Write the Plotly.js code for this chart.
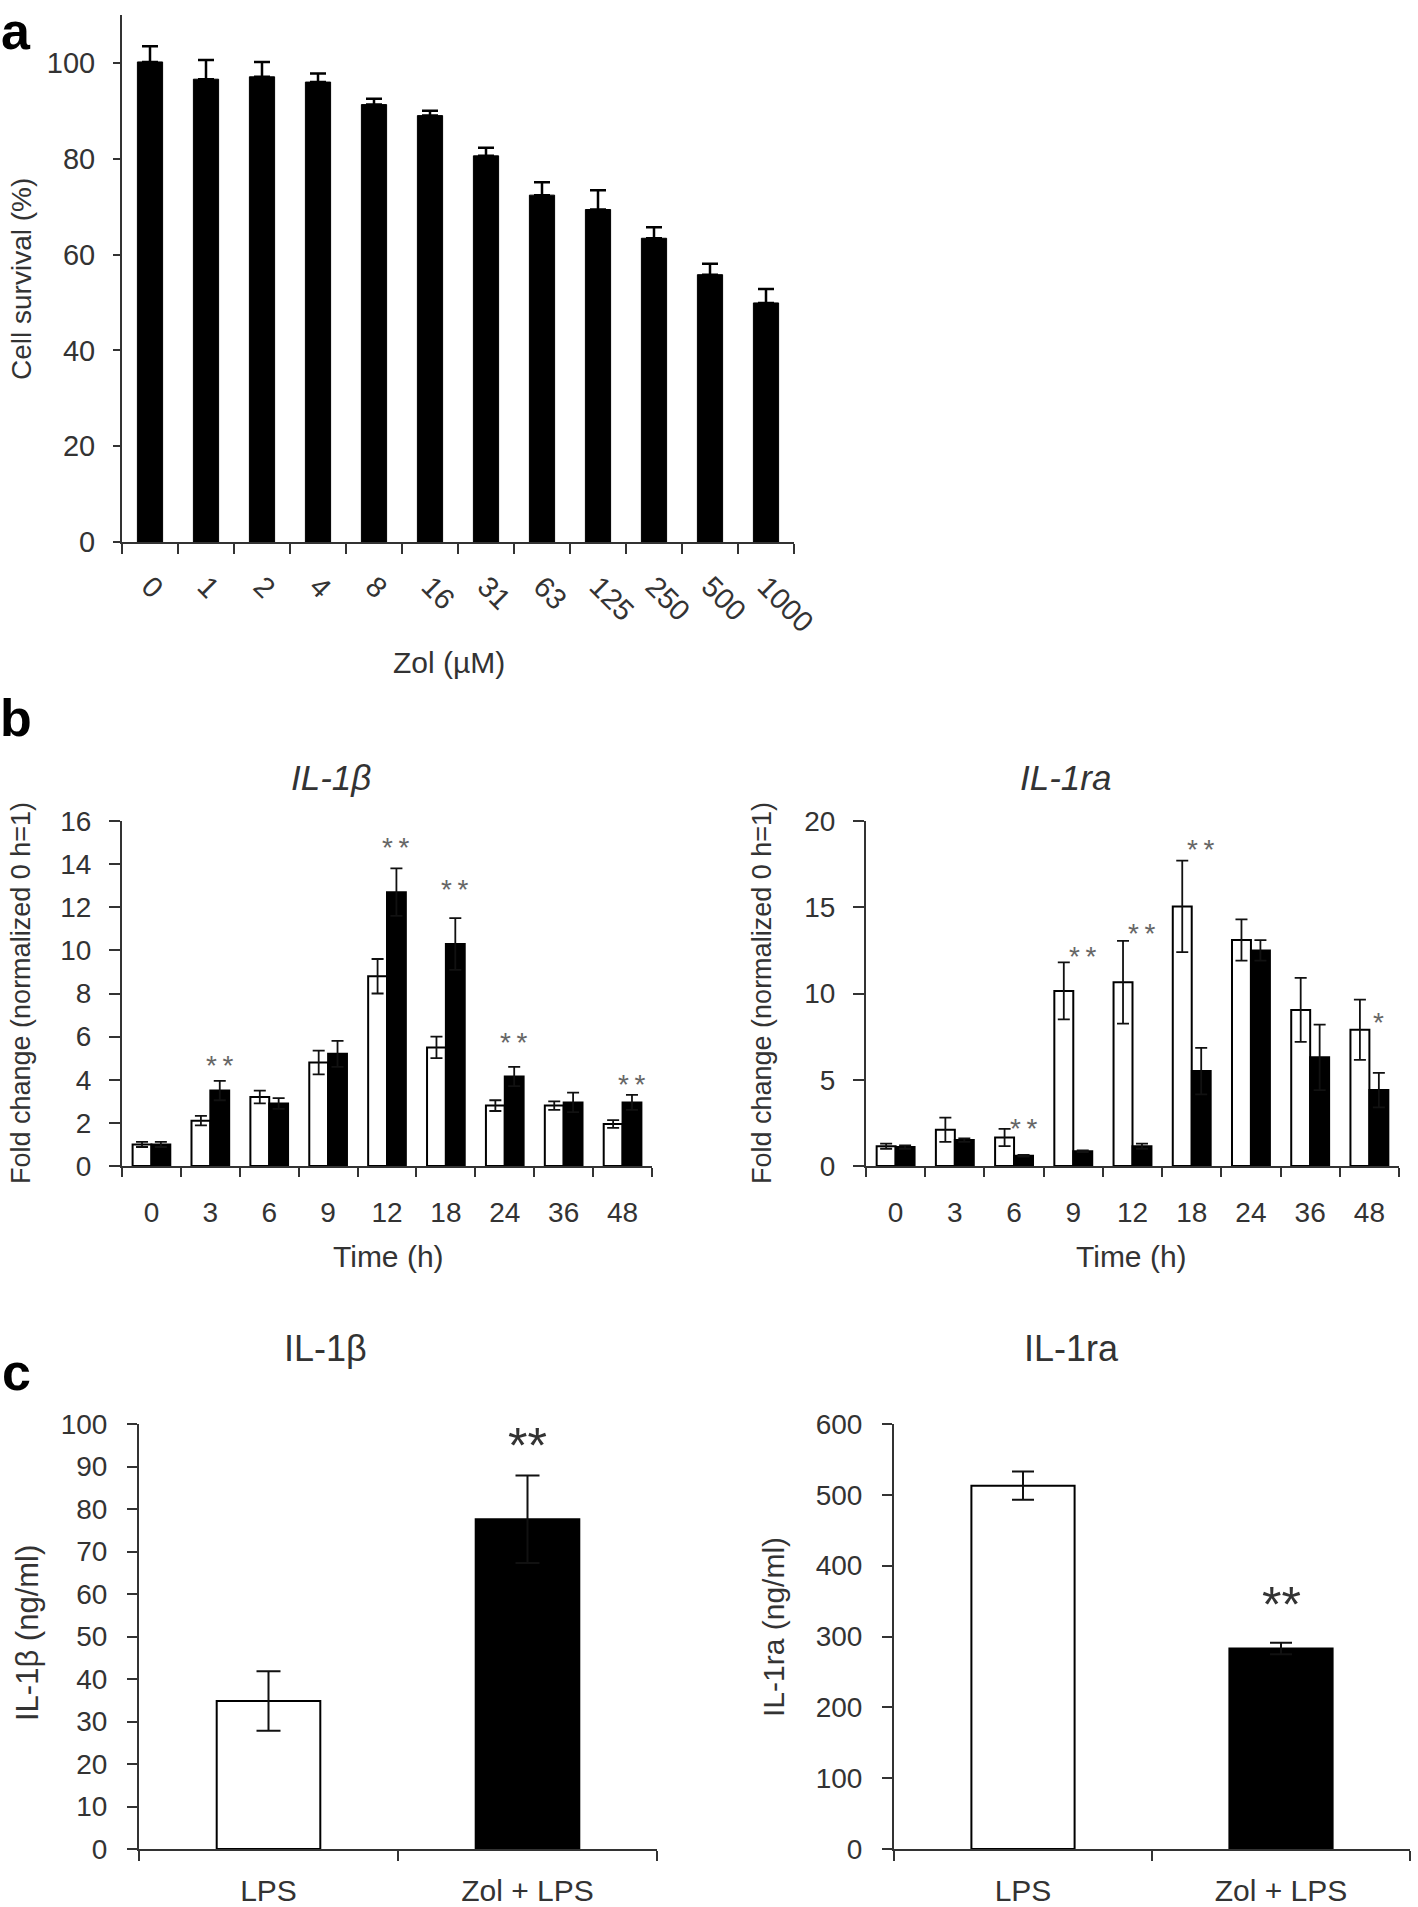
<!DOCTYPE html>
<html>
<head>
<meta charset="utf-8">
<script src="https://cdn.plot.ly/plotly-3.0.1.min.js"></script>
<style>
  html, body { margin: 0; padding: 0; background: #ffffff; }
  #chart { width: 1418px; height: 1907px; }
</style>
</head>
<body>
<div id="chart"></div>
<script>
// ---------- Panel a: cell survival ----------
const zolDoses = ['0','1','2','4','8','16','31','63','125','250','500','1000'];
const survival = [100.2, 96.6, 97.1, 96.0, 91.3, 89.0, 80.6, 72.4, 69.4, 63.4, 55.8, 49.9];
const survivalErr = [3.3, 4.0, 3.1, 1.8, 1.2, 1.0, 1.7, 2.7, 4.0, 2.3, 2.3, 2.9];

// ---------- Panel b: time course ----------
const timeCats = ['0','3','6','9','12','18','24','36','48'];
const il1bLPS = [1.0, 2.1, 3.2, 4.8, 8.8, 5.5, 2.8, 2.8, 1.95];
const il1bLPSErr = [0.12, 0.22, 0.3, 0.55, 0.8, 0.5, 0.25, 0.2, 0.18];
const il1bZol = [1.0, 3.5, 2.9, 5.2, 12.7, 10.3, 4.15, 2.95, 2.95];
const il1bZolErr = [0.12, 0.45, 0.25, 0.6, 1.1, 1.2, 0.45, 0.45, 0.35];
const il1bStarCats = ['3','12','18','24','48'];
const il1bStarY = [4.95, 15.05, 13.1, 6.0, 4.05];
const il1bStarText = ['**','**','**','**','**'];

const il1raLPS = [1.15, 2.1, 1.65, 10.15, 10.65, 15.05, 13.1, 9.05, 7.9];
const il1raLPSErr = [0.15, 0.7, 0.5, 1.65, 2.4, 2.65, 1.2, 1.85, 1.75];
const il1raZol = [1.1, 1.5, 0.6, 0.85, 1.15, 5.5, 12.5, 6.3, 4.4];
const il1raZolErr = [0.1, 0.1, 0.05, 0.05, 0.15, 1.35, 0.6, 1.9, 1.0];
const il1raStarCats = ['6','9','12','18','48'];
const il1raStarY = [2.55, 12.5, 13.8, 18.7, 8.65];
const il1raStarText = ['**','**','**','**','*'];

// ---------- Panel c: protein levels ----------
const groupCats = ['LPS', 'Zol + LPS'];
const il1bConc = [34.8, 77.6];
const il1bConcErr = [7.0, 10.3];
const il1raConc = [513, 283];
const il1raConcErr = [20, 8];
const cStarCat = 'Zol + LPS';
const cStarY1 = 97.5;
const cStarY2 = 360;

const FONT = 'Liberation Sans, Arial, Helvetica, sans-serif';
const TXT = '#333333';
const W = 1418, H = 1907;
const px = v => v / W;
const py = v => 1 - v / H;
const BARGAP = 0.36;
const blackOffset = (1 - BARGAP) / 4;   // centre of second bar in a group

const traces = [
  {
    type: 'bar', x: zolDoses, y: survival, xaxis: 'x', yaxis: 'y',
    width: zolDoses.map(() => 0.45),
    marker: { color: '#000000', line: { color: '#000000', width: 1 } },
    error_y: { type: 'data', symmetric: false, array: survivalErr, arrayminus: survivalErr.map(() => 0),
               color: '#000000', thickness: 2.5, width: 8 },
    showlegend: false
  },
  {
    type: 'bar', name: 'LPS', x: timeCats, y: il1bLPS, xaxis: 'x2', yaxis: 'y2',
    marker: { color: '#ffffff', line: { color: '#000000', width: 2 } },
    error_y: { type: 'data', array: il1bLPSErr, color: '#111111', thickness: 1.8, width: 6 },
    showlegend: false
  },
  {
    type: 'bar', name: 'Zol + LPS', x: timeCats, y: il1bZol, xaxis: 'x2', yaxis: 'y2',
    marker: { color: '#000000', line: { color: '#000000', width: 2 } },
    error_y: { type: 'data', array: il1bZolErr, color: '#111111', thickness: 1.8, width: 6 },
    showlegend: false
  },
  {
    type: 'bar', name: 'LPS', x: timeCats, y: il1raLPS, xaxis: 'x3', yaxis: 'y3',
    marker: { color: '#ffffff', line: { color: '#000000', width: 2 } },
    error_y: { type: 'data', array: il1raLPSErr, color: '#111111', thickness: 1.8, width: 6 },
    showlegend: false
  },
  {
    type: 'bar', name: 'Zol + LPS', x: timeCats, y: il1raZol, xaxis: 'x3', yaxis: 'y3',
    marker: { color: '#000000', line: { color: '#000000', width: 2 } },
    error_y: { type: 'data', array: il1raZolErr, color: '#111111', thickness: 1.8, width: 6 },
    showlegend: false
  },
  {
    type: 'bar', x: groupCats, y: il1bConc, xaxis: 'x4', yaxis: 'y4',
    width: groupCats.map(() => 0.40),
    marker: { color: ['#ffffff', '#000000'], line: { color: '#000000', width: 2 } },
    error_y: { type: 'data', array: il1bConcErr, color: '#111111', thickness: 2, width: 12 },
    showlegend: false
  },
  {
    type: 'bar', x: groupCats, y: il1raConc, xaxis: 'x5', yaxis: 'y5',
    width: groupCats.map(() => 0.40),
    marker: { color: ['#ffffff', '#000000'], line: { color: '#000000', width: 2 } },
    error_y: { type: 'data', array: il1raConcErr, color: '#111111', thickness: 2, width: 11 },
    showlegend: false
  }
];

function xAxis(domain, anchor, fontSize, extra) {
  return Object.assign({
    domain: domain, anchor: anchor, type: 'category',
    showline: true, linecolor: '#333333', linewidth: 2,
    ticks: 'outside', tickson: 'boundaries', ticklen: 10, tickwidth: 2, tickcolor: '#333333',
    showgrid: false, zeroline: false, fixedrange: true,
    tickfont: { family: FONT, size: fontSize, color: TXT }
  }, extra || {});
}
function yAxis(domain, anchor, range, dtick, fontSize, extra) {
  return Object.assign({
    domain: domain, anchor: anchor, range: range, dtick: dtick, tick0: 0,
    showline: true, linecolor: '#333333', linewidth: 2,
    ticks: 'outside', ticklen: 8, tickwidth: 2, tickcolor: '#333333',
    showgrid: false, zeroline: false, fixedrange: true,
    tickfont: { family: FONT, size: fontSize, color: TXT }
  }, extra || {});
}

const annotations = [];
function addText(text, x, y, size, opts) {
  annotations.push(Object.assign({
    text: text, x: px(x), y: py(y), xref: 'paper', yref: 'paper',
    showarrow: false, xanchor: 'center', yanchor: 'middle',
    font: { family: FONT, size: size, color: TXT }
  }, opts || {}));
}
// panel letters
const letterFont = { family: FONT, size: 52, color: '#000000' };
addText('<b>a</b>', 16, 0, 52, { yanchor: 'top', font: letterFont });
addText('<b>b</b>', 16, 718, 52, { font: letterFont });
addText('<b>c</b>', 16, 1372, 52, { font: letterFont });
// panel a titles
addText('Cell survival (%)', 21, 279, 28);
annotations[annotations.length - 1].textangle = -90;
addText('Zol (µM)', 449, 662, 30);
// panel b titles
addText('<i>IL-1β</i>', 331, 777, 35);
addText('<i>IL-1ra</i>', 1065, 777, 35);
addText('Fold change (normalized 0 h=1)', 21, 993, 27, { textangle: -90 });
addText('Fold change (normalized 0 h=1)', 762, 993, 27, { textangle: -90 });
addText('Time (h)', 388, 1256, 30);
addText('Time (h)', 1131, 1256, 30);
// panel c titles
addText('IL-1β', 325, 1348, 36);
addText('IL-1ra', 1071, 1348, 36);
addText('IL-1β (ng/ml)', 27, 1633, 31, { textangle: -90 });
addText('IL-1ra (ng/ml)', 773, 1627, 30, { textangle: -90 });

// significance stars (category index + offset of the black bar)
const starFontB = { family: FONT, size: 28, color: '#666666' };
il1bStarCats.forEach((c, i) => annotations.push({
  text: il1bStarText[i].split('').join('\u2009'),
  x: timeCats.indexOf(c) + blackOffset, y: il1bStarY[i], xref: 'x2', yref: 'y2', yshift: -6,
  showarrow: false, font: starFontB
}));
il1raStarCats.forEach((c, i) => annotations.push({
  text: il1raStarText[i].split('').join('\u2009'),
  x: timeCats.indexOf(c) + blackOffset, y: il1raStarY[i], xref: 'x3', yref: 'y3', yshift: -6,
  showarrow: false, font: starFontB
}));
const starFontC = { family: FONT, size: 50, color: '#333333' };
annotations.push({ text: '**', x: groupCats.indexOf(cStarCat), y: cStarY1, xref: 'x4', yref: 'y4', yshift: -11,
  showarrow: false, font: starFontC });
annotations.push({ text: '**', x: groupCats.indexOf(cStarCat), y: cStarY2, xref: 'x5', yref: 'y5', yshift: -11,
  showarrow: false, font: starFontC });

const layout = {
  width: W, height: H,
  margin: { l: 0, r: 0, t: 0, b: 0, pad: 0 },
  paper_bgcolor: '#ffffff', plot_bgcolor: '#ffffff',
  barmode: 'group', bargap: BARGAP, bargroupgap: 0,
  showlegend: false,
  font: { family: FONT, color: TXT },
  xaxis:  xAxis([px(122), px(794)], 'y', 29, { tickangle: 45, range: [-0.5, 11.5], ticklabelstandoff: 14 }),
  yaxis:  yAxis([py(542), py(15)], 'x', [0, 110], 20, 29, { ticklen: 7, ticklabelstandoff: 12 }),
  xaxis2: xAxis([px(122), px(652)], 'y2', 28, { range: [-0.5, 8.5], ticklen: 9, ticklabelstandoff: 20 }),
  yaxis2: yAxis([py(1166), py(821)], 'x2', [0, 16], 2, 28, { ticklen: 11, ticklabelstandoff: 12 }),
  xaxis3: xAxis([px(866), px(1399)], 'y3', 28, { range: [-0.5, 8.5], ticklen: 9, ticklabelstandoff: 20 }),
  yaxis3: yAxis([py(1166), py(821)], 'x3', [0, 20], 5, 28, { ticklen: 11, ticklabelstandoff: 12 }),
  xaxis4: xAxis([px(139), px(657)], 'y4', 30, { range: [-0.5, 1.5], ticklabelstandoff: 14 }),
  yaxis4: yAxis([py(1849), py(1424)], 'x4', [0, 100], 10, 28, { ticklen: 10, ticklabelstandoff: 14 }),
  xaxis5: xAxis([px(894), px(1410)], 'y5', 30, { range: [-0.5, 1.5], ticklabelstandoff: 14 }),
  yaxis5: yAxis([py(1849), py(1424)], 'x5', [0, 600], 100, 28, { ticklen: 10, ticklabelstandoff: 14 }),
  annotations: annotations
};

Plotly.newPlot('chart', traces, layout, { displayModeBar: false, staticPlot: true });
</script>
</body>
</html>
